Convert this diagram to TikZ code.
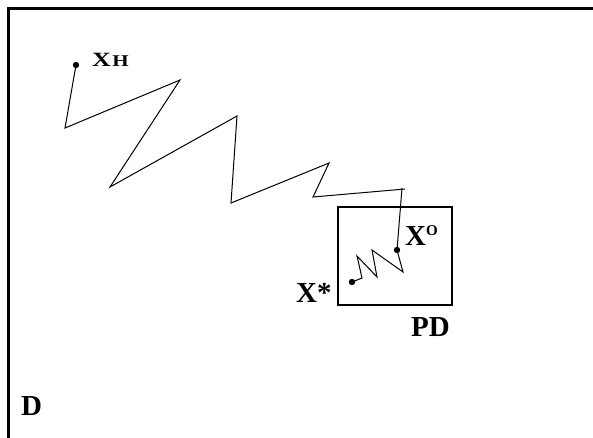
\documentclass[tikz,border=0pt]{standalone}
\usepackage{graphicx}
\usepackage{fontspec}
\setmainfont{Liberation Serif}
\usepackage{tikz}

\tikzset{lbl/.style={font=\fontsize{29}{29}\selectfont\bfseries, inner sep=0pt, anchor=base west},
  walk/.style={line width=1pt, line join=miter}}

\begin{document}
\begin{tikzpicture}[x=1pt,y=-1pt]
\useasboundingbox (0,0) rectangle (593,437);
\clip (0,0) rectangle (593,437);

% domain D
\draw[line width=3pt] (8,450) -- (8,8) -- (600,8);

\coordinate (XH) at (76,65);
\coordinate (XO) at (397,250);
\coordinate (Xs) at (352,282);

% long walk
\draw[walk] (XH) -- (65,128) -- (180,80) -- (110,187) -- (237,116) -- (231,203)
  -- (329,163) -- (313,197) -- (405,189);
\draw[walk] (402,188) -- (XO);
% short walk inside PD
\draw[walk] (XO) -- (403,272) -- (372,250) -- (377,277) -- (357,256) -- (362,278) -- (Xs);

\draw[line width=1.2pt] (338,207) rectangle (452,305);

\fill (XH) circle (3.2pt);
\fill (XO) circle (3.2pt);
\fill (Xs) circle (3.2pt);

\node[lbl] (xh) at (92,66) {\scalebox{1}[0.78]{\fontsize{26}{26}\selectfont X\kern1.5pt\fontsize{21}{21}\selectfont H}};
\node[lbl] (xo) at (405,245) {X\raisebox{9.5pt}{\fontsize{15}{15}\selectfont O}};
\node[lbl] (xs) at (296,302) {X*};
\node[lbl] (pd) at (411,336) {PD};
\node[lbl] (d) at (21,415) {D};
\end{tikzpicture}
\end{document}
